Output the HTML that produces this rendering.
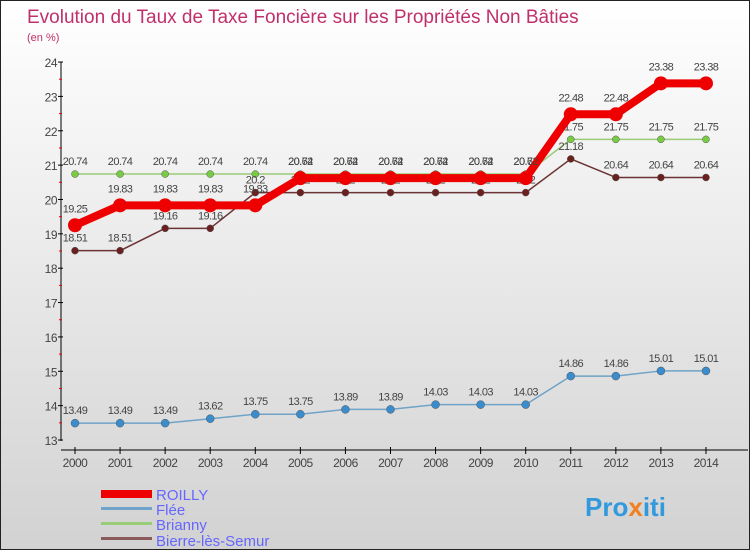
<!DOCTYPE html>
<html><head><meta charset="utf-8"><style>
body{margin:0;width:750px;height:550px;overflow:hidden;font-family:"Liberation Sans",sans-serif}
#wrap{position:relative;width:748px;height:548px;border:1px solid #222;background:linear-gradient(#ffffff,#d2d2d2)}
svg{position:absolute;left:0;top:0}
</style></head><body>
<div id="wrap">
<svg id="c" width="748" height="548">
<text x="26" y="22" font-size="19" fill="#c0306a">Evolution du Taux de Taxe Foncière sur les Propriétés Non Bâties</text>
<text x="26" y="40" font-size="11" fill="#c0306a">(en %)</text>
<g>
<rect x="100" y="489" width="51" height="8" fill="#ee0000"/>
<text x="155" y="499" font-size="15" fill="#6666ff">ROILLY</text>
<rect x="100" y="506" width="51" height="3" fill="#6fa3c8"/>
<text x="155" y="514" font-size="15" fill="#6666ff">Flée</text>
<rect x="100" y="521" width="51" height="3" fill="#99cc77"/>
<text x="155" y="529" font-size="15" fill="#6666ff">Brianny</text>
<rect x="100" y="536" width="51" height="3" fill="#8b5a5a"/>
<text x="155" y="545" font-size="15" fill="#6666ff">Bierre-lès-Semur</text>
</g>
<text x="584" y="515" font-size="26" font-weight="bold" fill="#3399dd">Pro<tspan fill="#f08020">x</tspan>iti</text>
</svg></div>
<script>
const years=[2000,2001,2002,2003,2004,2005,2006,2007,2008,2009,2010,2011,2012,2013,2014];
const roilly=[19.25,19.83,19.83,19.83,19.83,20.62,20.62,20.62,20.62,20.62,20.62,22.48,22.48,23.38,23.38];
const flee=[13.49,13.49,13.49,13.62,13.75,13.75,13.89,13.89,14.03,14.03,14.03,14.86,14.86,15.01,15.01];
const brianny=[20.74,20.74,20.74,20.74,20.74,20.74,20.74,20.74,20.74,20.74,20.74,21.75,21.75,21.75,21.75];
const bierre=[18.51,18.51,19.16,19.16,20.2,20.2,20.2,20.2,20.2,20.2,20.2,21.18,20.64,20.64,20.64];
const yTicks=[13,14,15,16,17,18,19,20,21,22,23,24];
const NS="http://www.w3.org/2000/svg",svg=document.getElementById('c');
const X=i=>74+i*45.07, Y=v=>439-(v-13)*34.36;
function mk(t,a,p){const e=document.createElementNS(NS,t);for(const k in a)e.setAttribute(k,a[k]);(p||svg).appendChild(e);return e;}
const ax=mk('g',{});


mk('line',{x1:60,y1:Y(24),x2:60,y2:440,stroke:'#000','stroke-width':1},ax);
mk('line',{x1:60,y1:449,x2:747,y2:449,stroke:'#000','stroke-width':1},ax);
yTicks.forEach(v=>{mk('line',{x1:57,y1:Y(v),x2:62,y2:Y(v),stroke:'#000'},ax);
 if(v<24)mk('line',{x1:58,y1:Y(v+0.5),x2:61,y2:Y(v+0.5),stroke:'#e00'},ax);
 const t=mk('text',{x:56,y:Y(v)+5,'text-anchor':'end','font-size':12,fill:'#444','letter-spacing':'-0.5'},ax);
 
 
 t.textContent=v;});
years.forEach((y,i)=>{mk('line',{x1:X(i),y1:446,x2:X(i),y2:453,stroke:'#000'},ax);
 const t=mk('text',{x:X(i),y:466,'text-anchor':'middle','font-size':12,fill:'#444','letter-spacing':'-0.5'},ax);
 
 
 t.textContent=y;});
function series(d,name,col,w,r,dot,dy){
 const g=mk('g',{});
 
 
 mk('polyline',{points:d.map((v,i)=>X(i)+','+Y(v)).join(' '),fill:'none',stroke:col,'stroke-width':w,'stroke-linejoin':'round'},g);
 d.forEach((v,i)=>{const c=mk('circle',{cx:X(i),cy:Y(v),r:r,fill:dot,stroke:'#555','stroke-width':r>5?0:0.5},g);
  
  
  const t=mk('text',{x:X(i),y:Y(v)+dy,'text-anchor':'middle','font-size':11,fill:'#444','letter-spacing':'-0.6'},g);
  
  
  t.textContent=v;});
}
series(flee,'flee','#6fa3c8',1.5,4,'#3a8ccc',-9);
series(brianny,'brianny','#99cc77',1.5,3.5,'#77cc44',-9);
series(bierre,'bierre-les-semur','#6b3333',1.5,3.5,'#6b2020',-9);
series(roilly,'roilly','#ee0000',8,7,'#ee0000',-13);
</script>
</body></html>
